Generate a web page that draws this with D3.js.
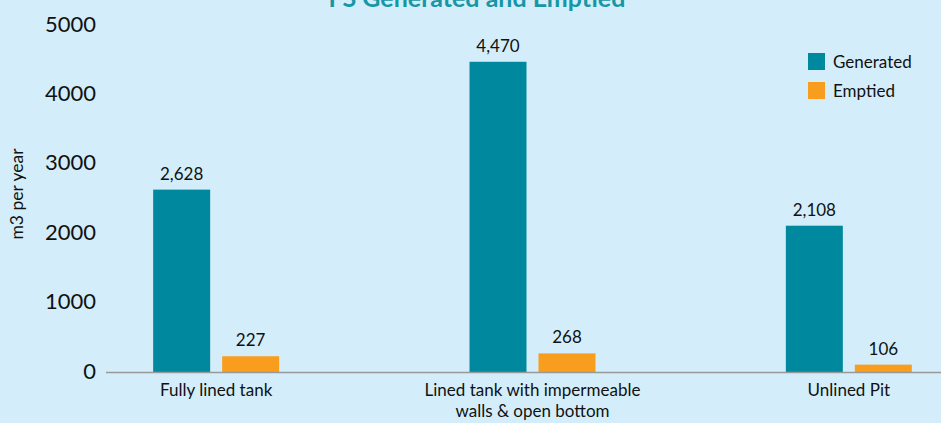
<!DOCTYPE html>
<html>
<head>
<meta charset="utf-8">
<script src="https://cdn.jsdelivr.net/npm/d3@7"></script>
<style>
  html, body { margin: 0; padding: 0; background: #D3EEFA; }
  svg { display: block; font-family: Lato, "Open Sans", sans-serif; }
</style>
</head>
<body>
<svg id="chart" width="941" height="423"></svg>
<script>
// Faecal sludge volumes per containment type
const categories = ["Fully lined tank", "Lined tank with impermeable walls & open bottom", "Unlined Pit"];
const categoryLines = [["Fully lined tank"], ["Lined tank with impermeable", "walls & open bottom"], ["Unlined Pit"]];
const series = ["Generated", "Emptied"];
const generated = [2628, 4470, 2108];
const emptied = [227, 268, 106];
const yTicks = [0, 1000, 2000, 3000, 4000, 5000];
const colors = { Generated: "#00889F", Emptied: "#F99D1E" };

const svg = d3.select("#chart");
const W = 941, H = 423;

svg.append("rect").attr("width", W).attr("height", H).attr("fill", "#D3EEFA");

const y = d3.scaleLinear().domain([0, 5000]).range([372, 25]);
const x0 = d3.scaleBand().domain(categories).range([58, 1007]).paddingInner(0).paddingOuter(0);
const x1 = d3.scaleBand().domain(series).range([-63, 63]).paddingInner(0.174).paddingOuter(0);

const values = { Generated: generated, Emptied: emptied };

// Title, sitting at the very top edge of the chart area
svg.append("text")
  .attr("x", 477).attr("y", 7)
  .attr("text-anchor", "middle")
  .attr("font-size", 25).attr("font-weight", 700)
  .attr("fill", "#1796A6")
  .text("FS Generated and Emptied");

// Y axis tick labels
const yAxis = d3.axisLeft(y).tickValues(yTicks).tickSize(0).tickPadding(0).tickFormat(d3.format("d"));
const yg = svg.append("g").attr("transform", "translate(96,0)").call(yAxis);
yg.select(".domain").remove();
yg.selectAll("text")
  .attr("font-family", "Lato, sans-serif")
  .attr("font-size", 22).attr("fill", "#111")
  .attr("dy", "0.28em");

// Y axis title
svg.append("text")
  .attr("transform", "translate(23,194) rotate(-90)")
  .attr("text-anchor", "middle")
  .attr("font-size", 17.5).attr("fill", "#111")
  .text("m3 per year");

// Bars
const groups = svg.append("g").selectAll("g")
  .data(categories)
  .join("g")
  .attr("transform", d => `translate(${x0(d) + x0.bandwidth() / 2},0)`);

groups.each(function(cat, i) {
  const g = d3.select(this);
  series.forEach(s => {
    const v = values[s][i];
    g.append("rect")
      .attr("x", x1(s))
      .attr("y", y(v))
      .attr("width", x1.bandwidth())
      .attr("height", y(0) - y(v))
      .attr("fill", colors[s]);
    g.append("text")
      .attr("x", x1(s) + x1.bandwidth() / 2)
      .attr("y", y(v) - 10)
      .attr("text-anchor", "middle")
      .attr("font-size", 17).attr("fill", "#111")
      .text(d3.format(",")(v));
  });
});

// X axis line
svg.append("line")
  .attr("x1", 106).attr("x2", W)
  .attr("y1", y(0) + 0.5).attr("y2", y(0) + 0.5)
  .attr("stroke", "#999").attr("stroke-width", 1.5);

// Category labels
svg.append("g").selectAll("text")
  .data(categories)
  .join("text")
  .attr("text-anchor", "middle")
  .attr("font-size", 17).attr("fill", "#111")
  .each(function(d, i) {
    const t = d3.select(this);
    const cx = x0(d) + x0.bandwidth() / 2;
    categoryLines[i].forEach((line, k) => {
      t.append("tspan").attr("x", cx).attr("y", 396 + k * 21).text(line);
    });
  });

// Legend
const legend = svg.append("g").attr("transform", "translate(808,53)");
series.forEach((s, i) => {
  legend.append("rect")
    .attr("x", 0).attr("y", i * 29)
    .attr("width", 17).attr("height", 17)
    .attr("fill", colors[s]);
  legend.append("text")
    .attr("x", 25).attr("y", i * 29 + 15)
    .attr("font-size", 17).attr("fill", "#111")
    .text(s);
});
</script>
</body>
</html>
